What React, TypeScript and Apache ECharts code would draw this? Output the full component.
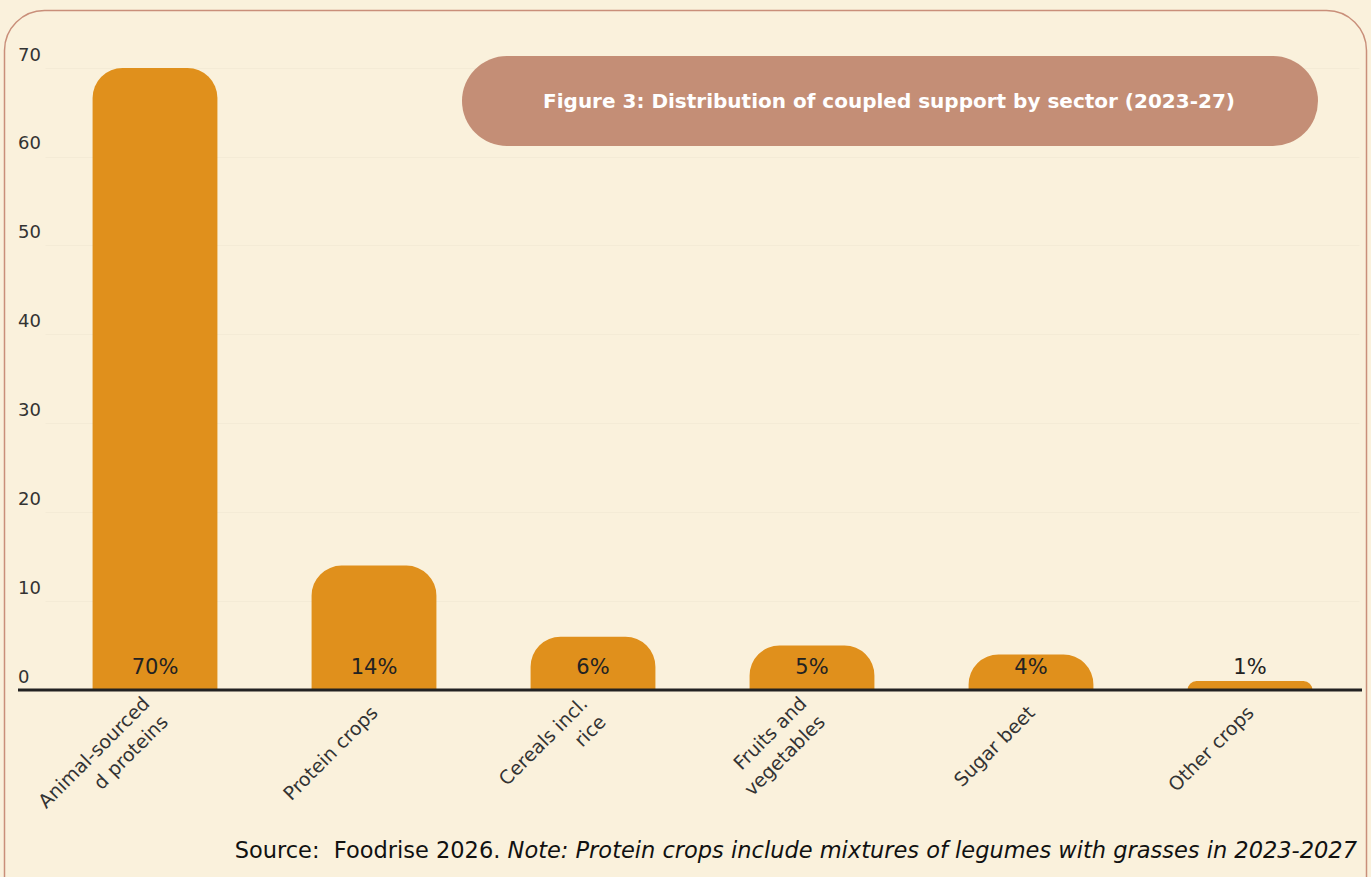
import React, { useEffect, useRef } from "react";
import * as echarts from "echarts";

const categories = [
  "Animal-sourced\nd proteins",
  "Protein crops",
  "Cereals incl.\nrice",
  "Fruits and\nvegetables",
  "Sugar beet",
  "Other crops",
];
const shares = [70, 14, 6, 5, 4, 1];
const yTicks = { min: 0, max: 70, interval: 10 };
const title = "Figure 3: Distribution of coupled support by sector (2023-27)";
const sourceText = "Source:  Foodrise 2026. ";
const noteText = "Note: Protein crops include mixtures of legumes with grasses in 2023-2027";

const FONT = "'DejaVu Sans', 'Open Sans', sans-serif";
const BG = "#FAF1DC";
const BAR = "#E0901C";

export default function App() {
  const ref = useRef<HTMLDivElement>(null);
  useEffect(() => {
    if (!ref.current) return;
    const chart = echarts.init(ref.current, undefined, { renderer: "svg" });
    chart.setOption({
      animation: false,
      backgroundColor: BG,
      textStyle: { fontFamily: FONT },
      grid: { left: 45.5, right: 11.5, top: 68, bottom: 187, containLabel: false },
      xAxis: {
        type: "category",
        data: categories,
        axisLine: { show: false },
        axisTick: { show: false },
        axisLabel: {
          rotate: 45,
          interval: 0,
          margin: 19,
          color: "#333",
          fontSize: 19,
          fontFamily: FONT,
          lineHeight: 26,
          align: "right",
        },
      },
      yAxis: {
        type: "value",
        min: yTicks.min,
        max: yTicks.max,
        interval: yTicks.interval,
        axisLine: { show: false },
        axisTick: { show: false },
        splitLine: { show: true, lineStyle: { color: "rgba(0,0,0,0.025)", width: 1 } },
        axisLabel: {
          color: "#333",
          fontSize: 18,
          fontFamily: FONT,
          align: "left",
          verticalAlign: "bottom",
          margin: 27.5,
          padding: [0, 0, 5, 0],
        },
      },
      series: [
        {
          type: "bar",
          data: shares,
          barWidth: "57%",
          itemStyle: { color: BAR, borderRadius: [30, 30, 0, 0] },
          label: {
            show: true,
            position: "insideBottom",
            distance: 13,
            formatter: "{c}%",
            color: "#222",
            fontSize: 21,
            fontFamily: FONT,
          },
        },
      ],
      graphic: [
        {
          type: "rect",
          shape: { x: 4.5, y: 10.5, width: 1362, height: 920, r: 40 },
          style: { fill: "none", stroke: "#C98F7A", lineWidth: 1.5 },
          silent: true,
          z: 0,
        },
        {
          type: "line",
          shape: { x1: 18, y1: 690, x2: 1362, y2: 690 },
          style: { stroke: "#222", lineWidth: 3 },
          z: 10,
        },
        {
          type: "rect",
          shape: { x: 462, y: 56, width: 856, height: 90, r: 45 },
          style: { fill: "#C48E76" },
          z: 10,
        },
        {
          type: "text",
          x: 889,
          y: 101,
          style: {
            text: title,
            fill: "#fff",
            fontSize: 20,
            fontWeight: "bold",
            fontFamily: FONT,
            align: "center",
            verticalAlign: "middle",
          },
          z: 11,
        },
        {
          type: "text",
          x: 1357,
          y: 850,
          style: {
            text: "{n|" + sourceText + "}{i|" + noteText + "}",
            align: "right",
            verticalAlign: "middle",
            rich: {
              n: { fontSize: 22.5, fill: "#111", fontFamily: FONT },
              i: { fontSize: 22.5, fill: "#111", fontFamily: FONT, fontStyle: "italic" },
            },
          },
          z: 11,
        },
      ],
    });
    return () => chart.dispose();
  }, []);
  return (
    <div
      ref={ref}
      style={{ position: "absolute", left: 0, top: 0, width: 1371, height: 877, background: BG }}
    />
  );
}
